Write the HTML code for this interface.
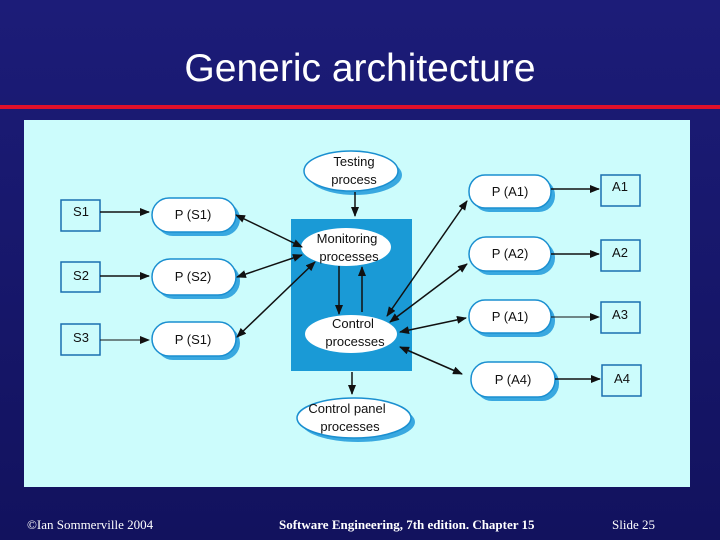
<!DOCTYPE html>
<html><head><style>
body{margin:0;width:720px;height:540px;overflow:hidden;background:linear-gradient(#1c1c78,#12125e);font-family:"Liberation Sans",sans-serif;position:relative}
.t{position:absolute;top:47px;width:720px;text-align:center;color:#fff;font-size:39px}
.f{position:absolute;top:517px;color:#fff;font-family:"Liberation Serif",serif;font-size:13px}
</style></head><body>
<div class="t">Generic architecture</div>
<div style="position:absolute;left:0;top:105px;width:720px;height:4px;background:#e0102a"></div>
<svg style="position:absolute;left:0;top:0" width="720" height="540">
<defs>
<marker id="a" markerWidth="10" markerHeight="8" refX="9" refY="4" orient="auto-start-reverse" markerUnits="userSpaceOnUse"><path d="M0,0L10,4L0,8z" fill="#111"/></marker>
</defs>
<rect x="24" y="120" width="666" height="367" fill="#ccfcfc"/>
<rect x="291" y="219" width="121" height="152" fill="#1a9ad6"/>
<g fill="none" stroke="#1a6fb0" stroke-width="1.5">
<rect x="61" y="200" width="39" height="31"/><rect x="61" y="262" width="39" height="30"/><rect x="61" y="324" width="39" height="31"/>
<rect x="601" y="175" width="39" height="31"/><rect x="601" y="240" width="39" height="31"/><rect x="601" y="302" width="39" height="31"/><rect x="602" y="365" width="39" height="31"/>
</g>
<g stroke="#1a8fd0" stroke-width="1.5">
<g fill="#39a8e0" stroke="none">
<rect x="156" y="202" width="84" height="34" rx="17"/><rect x="156" y="263" width="84" height="36" rx="18"/><rect x="156" y="326" width="84" height="34" rx="17"/>
<rect x="473" y="179" width="82" height="33" rx="16"/><rect x="473" y="241" width="82" height="34" rx="17"/><rect x="473" y="304" width="82" height="33" rx="16"/><rect x="475" y="366" width="84" height="35" rx="17"/>
<ellipse cx="355" cy="175" rx="47" ry="20"/><ellipse cx="358" cy="422" rx="57" ry="20"/>
</g>
<g fill="#fff">
<rect x="152" y="198" width="84" height="34" rx="17"/><rect x="152" y="259" width="84" height="36" rx="18"/><rect x="152" y="322" width="84" height="34" rx="17"/>
<rect x="469" y="175" width="82" height="33" rx="16"/><rect x="469" y="237" width="82" height="34" rx="17"/><rect x="469" y="300" width="82" height="33" rx="16"/><rect x="471" y="362" width="84" height="35" rx="17"/>
<ellipse cx="351" cy="171" rx="47" ry="20"/><ellipse cx="354" cy="418" rx="57" ry="20"/>
<ellipse cx="346" cy="247" rx="45" ry="19" stroke="none"/><ellipse cx="351" cy="334" rx="46" ry="19" stroke="none"/>
</g></g>
<g stroke="#111" stroke-width="1.5" fill="none">
<line x1="100" y1="212" x2="149" y2="212" marker-end="url(#a)"/>
<line x1="100" y1="276" x2="149" y2="276" marker-end="url(#a)"/>
<line x1="100" y1="340" x2="149" y2="340" stroke-width="1" marker-end="url(#a)"/>
<line x1="236" y1="215" x2="302" y2="247" marker-start="url(#a)" marker-end="url(#a)"/>
<line x1="237" y1="277" x2="302" y2="255" marker-start="url(#a)" marker-end="url(#a)"/>
<line x1="237" y1="337" x2="315" y2="262" marker-start="url(#a)" marker-end="url(#a)"/>
<line x1="355" y1="192" x2="355" y2="216" marker-end="url(#a)"/>
<line x1="339" y1="266" x2="339" y2="314" marker-end="url(#a)"/>
<line x1="362" y1="312" x2="362" y2="267" marker-end="url(#a)"/>
<line x1="352" y1="372" x2="352" y2="394" marker-end="url(#a)"/>
<line x1="467" y1="201" x2="387" y2="316" marker-start="url(#a)" marker-end="url(#a)"/>
<line x1="467" y1="264" x2="390" y2="322" marker-start="url(#a)" marker-end="url(#a)"/>
<line x1="466" y1="318" x2="400" y2="332" marker-start="url(#a)" marker-end="url(#a)"/>
<line x1="462" y1="374" x2="400" y2="347" marker-start="url(#a)" marker-end="url(#a)"/>
<line x1="551" y1="189" x2="599" y2="189" marker-end="url(#a)"/>
<line x1="551" y1="254" x2="599" y2="254" marker-end="url(#a)"/>
<line x1="551" y1="317" x2="599" y2="317" stroke-width="1" marker-end="url(#a)"/>
<line x1="555" y1="379" x2="600" y2="379" marker-end="url(#a)"/>
</g>
<g font-size="13" fill="#111" text-anchor="middle">
<text x="81" y="216">S1</text><text x="81" y="280">S2</text><text x="81" y="342">S3</text>
<text x="620" y="191">A1</text><text x="620" y="257">A2</text><text x="620" y="319">A3</text><text x="622" y="383">A4</text>
<text x="193" y="219">P (S1)</text><text x="193" y="281">P (S2)</text><text x="193" y="344">P (S1)</text>
<text x="510" y="196">P (A1)</text><text x="510" y="258">P (A2)</text><text x="510" y="321">P (A1)</text><text x="513" y="384">P (A4)</text>
<text x="354" y="166">Testing</text><text x="354" y="184">process</text>
<text x="347" y="243">Monitoring</text><text x="349" y="261">processes</text>
<text x="353" y="328">Control</text><text x="355" y="346">processes</text>
<text x="347" y="413">Control panel</text><text x="350" y="431">processes</text>
</g>
</svg>
<div class="f" style="left:27px">©Ian Sommerville 2004</div>
<div class="f" style="left:279px;font-weight:bold">Software Engineering, 7th edition. Chapter 15</div>
<div class="f" style="left:612px">Slide 25</div>
</body></html>
